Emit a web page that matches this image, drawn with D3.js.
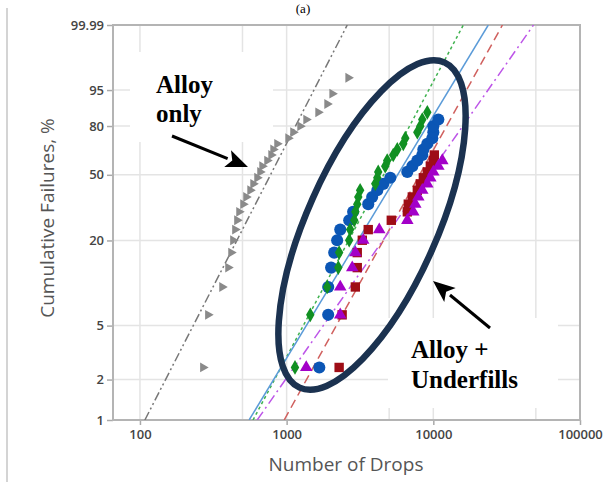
<!DOCTYPE html>
<html><head><meta charset="utf-8">
<script src="https://cdn.jsdelivr.net/npm/d3@7/dist/d3.min.js"></script>
<style>body{margin:0;background:#fff}svg{display:block}</style>
</head><body><svg id="c" width="606" height="493"></svg>
<script>
// ---- data ----
const yTickValues = [1, 2, 5, 20, 50, 80, 95, 99.99];
const yTickLabels = ["1", "2", "5", "20", "50", "80", "95", "99.99"];
const xTickValues = [100, 1000, 10000, 100000];
const xTickLabels = ["100", "1000", "10000", "100000"];
const xMinorGrid = [500, 5000, 50000];
// plotting positions (cumulative failure %, by failure order)
const plotPositions = [2.46, 5.99, 9.51, 13.03, 16.55, 20.07, 23.59, 27.11, 30.63, 34.15,
  37.68, 41.20, 44.72, 48.24, 51.76, 55.28, 58.80, 62.32, 65.85, 69.37,
  72.89, 76.41, 79.93, 83.45, 86.97, 90.49, 94.01, 97.54];
const seriesNames = ["Alloy only", "Alloy + UF green", "Alloy + UF blue", "Alloy + UF red", "Alloy + UF purple"];
const dropsAlloyOnly = [269, 291, 363, 399, 418, 431, 445, 459, 474, 505, 529, 564, 591, 629, 659, 681,
  736, 784, 809, 861, 1024, 1107, 1236, 1358, 1640, 1889, 2045, 2630];
const dropsGreen = [1140, 1450, 1890, 2250, 2280, 2670, 2710, 2890, 2940, 3030, 3080, 3170, 4020,
  4150, 4210, 4700, 4850, 5330, 5680, 6240, 6440, 7780, 8150, 8410, 9100];
const dropsBlue = [1670, 1920, 1920, 2010, 2110, 2210, 2320, 2670, 2840, 3600, 3830, 4150, 4560,
  5090, 6650, 7190, 7780, 8410, 8550, 9100, 9840, 10000, 10000, 10820];
const dropsRed = [2280, 2390, 2940, 3030, 3030, 3280, 3600, 5170, 6650, 6750, 7190, 7780, 8150,
  8550, 9100, 9540, 10000, 10160];
const dropsPurple = [1360, 2320, 2320, 2800, 2940, 3330, 4280, 6650, 7300, 7540, 7900, 8410, 9100,
  9540, 10000, 10820, 11520];
// fitted Weibull lines: drops at 1 % and at 99.99 %
const fitAt1 = [108, 590, 555, 962, 630];
const fitAt9999 = [2590, 16030, 23700, 29600, 48200];

// ---- styles ----
const colors = ["#8a8a8a", "#119022", "#0b56b5", "#9e0d16", "#a300c8"];
const lineColors = ["#777777", "#3fb24f", "#5b9bd8", "#d0605e", "#bd55e8"];
const dashes = ["9,3,2,3,2,3", "3,3", null, "9,5", "10,4,2,4"];
const symbols = [d3.symbolTriangle, d3.symbolDiamond, d3.symbolCircle, d3.symbolSquare, d3.symbolTriangle];
const symSizes = [42, 62, 115, 88, 68];
const symRot = [90, 0, 0, 0, 0];
const seriesDrops = [dropsAlloyOnly, dropsGreen, dropsBlue, dropsRed, dropsPurple];
const drawOrder = [0, 2, 3, 1, 4];

const svg = d3.select("#c");
const L = 113, R = 580, T = 25, B = 420;
const wf = p => Math.log(-Math.log(1 - p / 100));
const x = d3.scaleLog().domain([65.5, 100000]).range([L, R]);
const yW = d3.scaleLinear().domain([wf(1), wf(99.99)]).range([B, T]);
const y = p => yW(wf(p));

// outer frame line on left
svg.append("line").attr("x1", 7).attr("x2", 7).attr("y1", 8).attr("y2", 482)
  .attr("stroke", "#d4d4d4").attr("stroke-width", 2);

// title (partly cut at top in the original)
svg.append("text").attr("x", 303).attr("y", 13).attr("text-anchor", "middle")
  .attr("font-family", "Liberation Serif").attr("font-size", 13).attr("fill", "#000").text("(a)");

// grid
const grid = svg.append("g");
grid.selectAll("line.h").data(yTickValues.slice(1, -1)).join("line")
  .attr("x1", L).attr("x2", R).attr("y1", d => y(d)).attr("y2", d => y(d))
  .attr("stroke", "#e4e4e4").attr("stroke-width", 1.5);
grid.selectAll("line.v").data(xTickValues.slice(0, -1).concat(xMinorGrid)).join("line")
  .attr("x1", d => x(d)).attr("x2", d => x(d)).attr("y1", T).attr("y2", B)
  .attr("stroke", "#e4e4e4").attr("stroke-width", 1.5);

// white text boxes covering grid
svg.append("rect").attr("x", 130).attr("y", 52).attr("width", 143).attr("height", 90).attr("fill", "#fff");
svg.append("rect").attr("x", 388).attr("y", 318).attr("width", 170).attr("height", 90).attr("fill", "#fff");

// axes
const yAxis = d3.axisLeft(yW).tickValues(yTickValues.map(wf))
  .tickFormat((d, i) => yTickLabels[i]).tickSize(6).tickPadding(3);
const gy = svg.append("g").attr("transform", `translate(${L},0)`).call(yAxis);
const xAxis = d3.axisBottom(x).tickValues(xTickValues)
  .tickFormat((d, i) => xTickLabels[i]).tickSize(5).tickPadding(5);
const gx = svg.append("g").attr("transform", `translate(0,${B})`).call(xAxis);
[gx, gy].forEach(g => {
  g.select(".domain").remove();
  g.selectAll(".tick line").attr("stroke", "#aaa").attr("stroke-width", 1.5);
  g.selectAll(".tick text").attr("font-family", "Open Sans").attr("font-weight", 600)
    .attr("font-size", 13).attr("fill", "#444");
});

// plot frame
svg.append("rect").attr("x", L).attr("y", T).attr("width", R - L).attr("height", B - T)
  .attr("fill", "none").attr("stroke", "#b4b4b4").attr("stroke-width", 2);

// axis titles
svg.append("text").attr("x", 346).attr("y", 471).attr("text-anchor", "middle")
  .attr("font-family", "Open Sans").attr("font-size", 19).attr("fill", "#555").text("Number of Drops");
svg.append("text").attr("transform", "translate(54,218) rotate(-90)").attr("text-anchor", "middle")
  .attr("font-family", "Open Sans").attr("font-size", 19).attr("fill", "#555").text("Cumulative Failures, %");

// fit lines
svg.append("clipPath").attr("id", "clip").append("rect")
  .attr("x", L).attr("y", T).attr("width", R - L).attr("height", B - T);
const fits = svg.append("g").attr("clip-path", "url(#clip)");
seriesNames.forEach((n, i) => {
  fits.append("line")
    .attr("x1", x(fitAt1[i])).attr("y1", y(1))
    .attr("x2", x(fitAt9999[i])).attr("y2", y(99.99))
    .attr("stroke", lineColors[i]).attr("stroke-width", 1.5)
    .attr("stroke-dasharray", dashes[i]);
});

// markers
drawOrder.forEach(i => {
  const pts = seriesDrops[i].map((v, k) => [v, plotPositions[k]]);
  svg.append("g").selectAll("path").data(pts).join("path")
    .attr("d", d3.symbol().type(symbols[i]).size(symSizes[i]))
    .attr("transform", d => `translate(${x(d[0])},${y(d[1])}) rotate(${symRot[i]})`)
    .attr("fill", colors[i]);
});

// ellipse annotation
svg.append("ellipse").attr("cx", 0).attr("cy", 0).attr("rx", 178).attr("ry", 65)
  .attr("transform", "translate(372,225) rotate(-66)")
  .attr("fill", "none").attr("stroke", "#1b3250").attr("stroke-width", 6.5);

// arrows
function arrow(x1, y1, x2, y2) {
  const a = Math.atan2(y2 - y1, x2 - x1), hl = 22, hw = 9;
  const bx = x2 - hl * Math.cos(a), by = y2 - hl * Math.sin(a);
  svg.append("line").attr("x1", x1).attr("y1", y1).attr("x2", bx).attr("y2", by)
    .attr("stroke", "#000").attr("stroke-width", 3);
  const px = -Math.sin(a) * hw, py = Math.cos(a) * hw;
  svg.append("path").attr("d", `M${x2},${y2}L${bx + px},${by + py}L${bx + 5 * Math.cos(a)},${by + 5 * Math.sin(a)}L${bx - px},${by - py}Z`)
    .attr("fill", "#000");
}
arrow(172, 136, 248, 167);
arrow(490, 328, 433, 281);

// annotation texts
const ann = [["Alloy", 156, 93], ["only", 156, 122], ["Alloy +", 411, 358], ["Underfills", 411, 388]];
svg.selectAll("text.ann").data(ann).join("text").attr("class", "ann")
  .attr("x", d => d[1]).attr("y", d => d[2])
  .attr("font-family", "Liberation Serif").attr("font-weight", "bold").attr("font-size", 25)
  .attr("fill", "#000").text(d => d[0]);
</script></body></html>
